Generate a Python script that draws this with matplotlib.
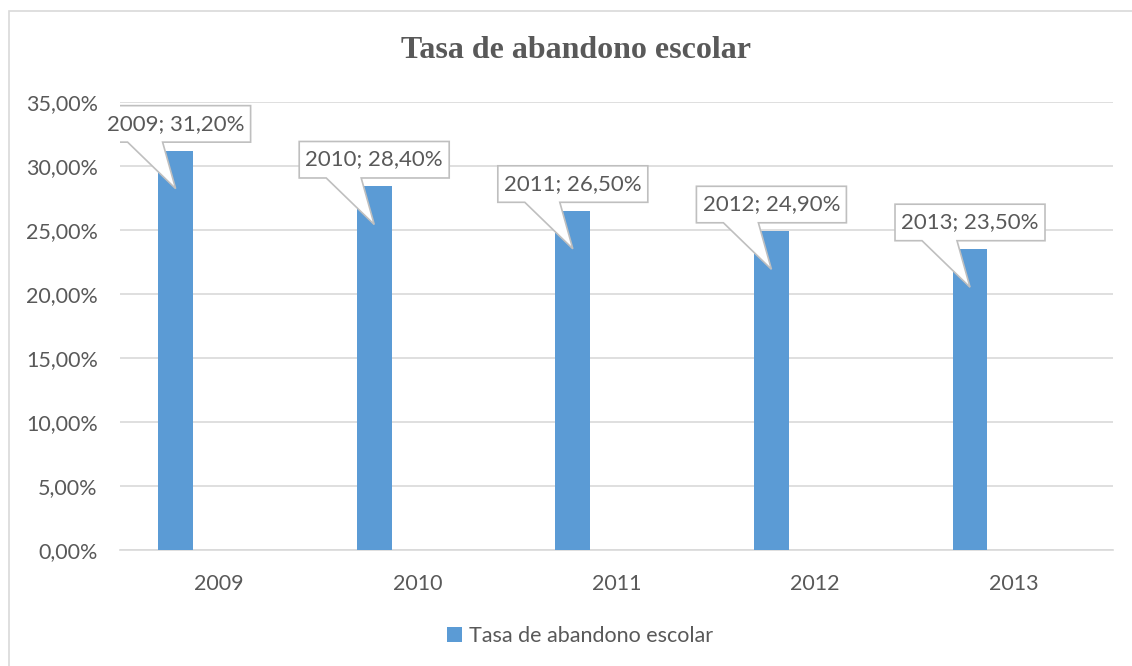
import matplotlib.pyplot as plt
from matplotlib.patches import Rectangle, Polygon

# data
years = ['2009', '2010', '2011', '2012', '2013']
tasa = [31.20, 28.40, 26.50, 24.90, 23.50]
yticks = [0, 5, 10, 15, 20, 25, 30, 35]

text_col = '#595959'
grid_col = '#d9d9d9'
bar_col = '#5b9bd5'
font = 'Lato'

fig = plt.figure(figsize=(11.32, 6.66), dpi=100)
ax = fig.add_axes([120 / 1132, 1 - 550 / 666, (1113 - 120) / 1132, (550 - 102) / 666])

# outer chart border (runs off the right and bottom edge)
fig.patches.append(Rectangle((9 / 1132, -0.1), 1.2, 1 - 11 / 666 + 0.1,
                             transform=fig.transFigure, fill=False,
                             ec=grid_col, lw=1.2))

x = list(range(len(years)))
xb = [i - 0.22 for i in x]
ax.bar(xb, tasa, width=0.176, color=bar_col, zorder=3, label='Tasa de abandono escolar')

ax.set_xlim(-0.5, len(years) - 0.5)
ax.set_ylim(0, 35)
ax.set_yticks(yticks)
ax.set_yticklabels([f'{v:.2f}%'.replace('.', ',') for v in yticks])
ax.set_xticks(x)
ax.set_xticklabels(years)
ax.tick_params(length=0, labelsize=15.5, colors=text_col, labelfontfamily=font)
ax.tick_params(axis='y', pad=16)
ax.tick_params(axis='x', pad=17)
ax.grid(axis='y', color=grid_col, lw=1.2, zorder=0)
for s in ['top', 'right', 'left']:
    ax.spines[s].set_visible(False)
ax.spines['bottom'].set_color(grid_col)
ax.spines['bottom'].set_linewidth(1.2)

# callout labels: box + pointer, shape given in pixel offsets from the bar top
shape = [(-75, 45), (75, 45), (75, 8.5), (-13, 8.5), (0, -38), (-48, 8.5), (-75, 8.5)]
inv = ax.transData.inverted()
for xi, yr, v in zip(xb, years, tasa):
    px, py = ax.transData.transform((xi, v))
    verts = inv.transform([(px + dx, py + dy) for dx, dy in shape])
    ax.add_patch(Polygon(verts, closed=True, fc='white', ec='#bfbfbf', lw=1.2, zorder=4))
    tx, ty = inv.transform((px, py + 27))
    label = f'{yr}; {v:.2f}%'.replace('.', ',')
    ax.text(tx, ty, label, ha='center', va='center', fontsize=16, family=font,
            color=text_col, zorder=5)

fig.text(576 / 1132, 1 - 50 / 666, 'Tasa de abandono escolar', ha='center', va='center',
         fontsize=23, fontweight='bold', family='Liberation Serif', color=text_col)

leg = ax.legend(loc='center', bbox_to_anchor=(580 / 1132, 1 - 636 / 666),
                bbox_transform=fig.transFigure, frameon=False,
                handlelength=0.7, handleheight=0.7, handletextpad=0.3,
                prop={'family': font, 'size': 15.5})
for t in leg.get_texts():
    t.set_color(text_col)

fig.savefig('out.png', dpi=100)
